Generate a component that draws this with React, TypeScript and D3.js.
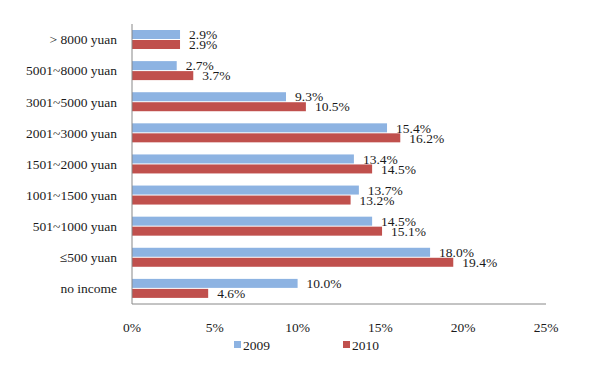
import React, { useEffect, useRef } from 'react';
import * as d3 from 'd3';

// income groups, top to bottom
const categories = [
  '> 8000 yuan',
  '5001~8000 yuan',
  '3001~5000 yuan',
  '2001~3000 yuan',
  '1501~2000 yuan',
  '1001~1500 yuan',
  '501~1000 yuan',
  '≤500 yuan',
  'no income',
];
const values2009 = [2.9, 2.7, 9.3, 15.4, 13.4, 13.7, 14.5, 18.0, 10.0];
const values2010 = [2.9, 3.7, 10.5, 16.2, 14.5, 13.2, 15.1, 19.4, 4.6];
const xTicks = [0, 5, 10, 15, 20, 25];
const seriesNames = ['2009', '2010'];

const COLORS = ['#8DB3E2', '#C0504D'];
const FONT = '"Liberation Serif", "Times New Roman", serif';

export default function App() {
  const ref = useRef<SVGSVGElement>(null);

  useEffect(() => {
    const svg = d3.select(ref.current);
    svg.selectAll('*').remove();

    const left = 132, right = 546, top = 24, bottom = 304;

    const x = d3.scaleLinear().domain([0, 25]).range([left, right]);
    const y = d3.scaleBand().domain(categories).range([top, bottom]);

    const g = svg.append('g');

    // bars, two per category
    const series = [values2009, values2010];
    series.forEach((vals, si) => {
      g.append('g')
        .selectAll('rect')
        .data(vals)
        .enter()
        .append('rect')
        .attr('x', x(0))
        .attr('y', (d, i) => (y(categories[i]) as number) + 6 + si * 10)
        .attr('width', d => x(d) - x(0))
        .attr('height', 9)
        .attr('fill', COLORS[si]);

      // value labels (they touch each other in the original too)
      g.append('g')
        .selectAll('text')
        .data(vals)
        .enter()
        .append('text')
        .attr('x', d => x(d) + 9)
        .attr('y', (d, i) => (y(categories[i]) as number) + 6 + si * 10 + 4.5)
        .attr('dy', '0.35em')
        .attr('font-family', FONT)
        .attr('font-size', 13.5)
        .attr('fill', '#1a1a1a')
        .text(d => d.toFixed(1) + '%');
    });

    // axes lines
    g.append('line')
      .attr('x1', left).attr('x2', left)
      .attr('y1', top).attr('y2', bottom)
      .attr('stroke', '#888').attr('stroke-width', 1);
    g.append('line')
      .attr('x1', left).attr('x2', right)
      .attr('y1', bottom).attr('y2', bottom)
      .attr('stroke', '#888').attr('stroke-width', 1);

    // category labels
    g.append('g')
      .selectAll('text')
      .data(categories)
      .enter()
      .append('text')
      .attr('x', 117)
      .attr('y', d => (y(d) as number) + y.bandwidth() / 2)
      .attr('dy', '0.35em')
      .attr('text-anchor', 'end')
      .attr('font-family', FONT)
      .attr('font-size', 13.5)
      .attr('fill', '#1a1a1a')
      .text(d => d);

    // x tick labels
    g.append('g')
      .selectAll('text')
      .data(xTicks)
      .enter()
      .append('text')
      .attr('x', d => x(d))
      .attr('y', 327)
      .attr('dy', '0.35em')
      .attr('text-anchor', 'middle')
      .attr('font-family', FONT)
      .attr('font-size', 13.5)
      .attr('fill', '#1a1a1a')
      .text(d => d + '%');

    // legend
    const legendX = [234, 343];
    seriesNames.forEach((name, i) => {
      g.append('rect')
        .attr('x', legendX[i]).attr('y', 341)
        .attr('width', 7).attr('height', 7)
        .attr('fill', COLORS[i]);
      g.append('text')
        .attr('x', legendX[i] + 9)
        .attr('y', 345)
        .attr('dy', '0.35em')
        .attr('font-family', FONT)
        .attr('font-size', 13.5)
        .attr('fill', '#1a1a1a')
        .text(name);
    });
  }, []);

  return (
    <svg
      ref={ref}
      width={600}
      height={370}
      style={{ position: 'absolute', left: 0, top: 0, background: '#fff' }}
    />
  );
}
